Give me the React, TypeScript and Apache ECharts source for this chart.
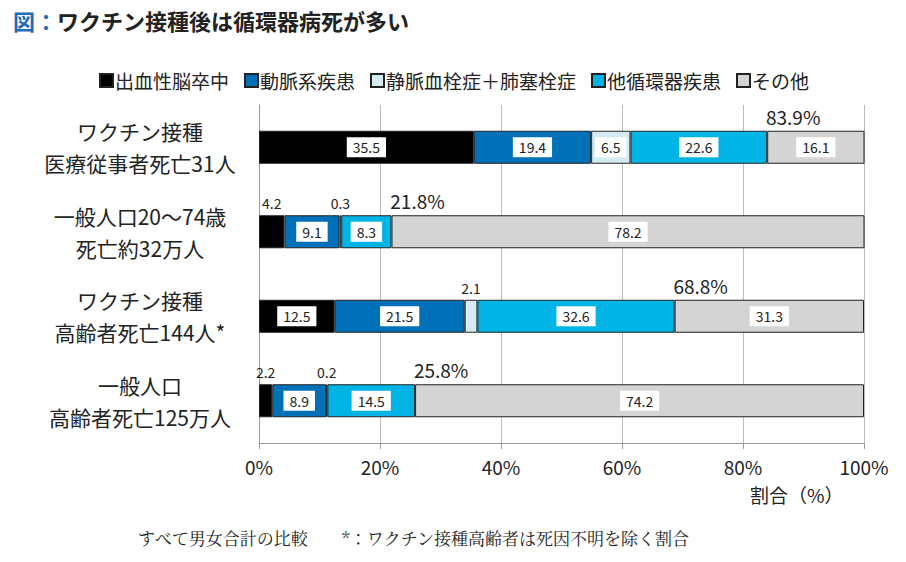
import { useEffect, useRef } from 'react'
import * as echarts from 'echarts'

const categories = ['ワクチン接種\n医療従事者死亡31人', '一般人口20～74歳\n死亡約32万人', 'ワクチン接種\n高齢者死亡144人*', '一般人口\n高齢者死亡125万人']
const seriesNames = ['出血性脳卒中', '動脈系疾患', '静脈血栓症＋肺塞栓症', '他循環器疾患', 'その他']
const colors = ['#000000', '#0070b8', '#d5ebf3', '#00b5e6', '#d4d4d4']
const hemorrhagic = [35.5, 4.2, 12.5, 2.2]
const arterial = [19.4, 9.1, 21.5, 8.9]
const venous = [6.5, 0.3, 2.1, 0.2]
const otherCirc = [22.6, 8.3, 32.6, 14.5]
const others = [16.1, 78.2, 31.3, 74.2]
const totals = ['83.9%', '21.8%', '68.8%', '25.8%']
const xTicks = ['0%', '20%', '40%', '60%', '80%', '100%']

const FONT = '"Noto Sans CJK JP", "Noto Sans", sans-serif'

export default function App() {
  const ref = useRef<HTMLDivElement>(null)

  useEffect(() => {
    document.body.style.margin = '0'
    if (!ref.current) return
    const chart = echarts.init(ref.current, undefined, { renderer: 'svg' })
    const values = [hemorrhagic, arterial, venous, otherCirc, others]
    // 5 未満の値はバーの上に枠なしで表示
    const mk = (v: number) =>
      v < 5
        ? { value: v, label: { position: 'top', backgroundColor: 'transparent', padding: 0, distance: 5 } }
        : { value: v }
    const bars: any[] = values.map((arr, i) => ({
      name: seriesNames[i],
      type: 'bar',
      stack: 'a',
      barWidth: 33,
      itemStyle: { color: colors[i], borderColor: '#222', borderWidth: 1 },
      label: {
        show: true,
        position: 'inside',
        color: '#222',
        fontSize: 14,
        fontFamily: FONT,
        backgroundColor: '#fff',
        padding: [3, 6],
        formatter: (p: any) => p.value.toFixed(1),
      },
      data: arr.map(mk),
    }))
    // 合計ラベル用の幅ゼロの系列
    bars.splice(4, 0, {
      name: 'total',
      type: 'bar',
      stack: 'a',
      barWidth: 33,
      itemStyle: { color: 'transparent' },
      label: {
        show: true,
        position: 'top',
        offset: [26, 0],
        distance: 5,
        fontSize: 19,
        color: '#222',
        fontFamily: FONT,
        formatter: (p: any) => totals[p.dataIndex],
      },
      data: [0, 0, 0, 0],
    })
    chart.setOption({
      animation: false,
      textStyle: { fontFamily: FONT },
      title: {
        text: '{b|図：}{t|ワクチン接種後は循環器病死が多い}',
        left: 8,
        top: 4,
        textStyle: {
          rich: {
            b: { color: '#1f6db5', fontSize: 22, fontWeight: 'bold', fontFamily: FONT },
            t: { color: '#222', fontSize: 22, fontWeight: 'bold', fontFamily: FONT },
          },
        },
      },
      legend: {
        data: seriesNames.map((n) => ({ name: n, icon: 'rect' })),
        top: 66,
        left: 94,
        itemWidth: 13,
        itemHeight: 13,
        itemGap: 15,
        textStyle: { fontSize: 19, color: '#222', padding: [0, 0, 0, -3] },
      },
      grid: { left: 259, right: 42, top: 105, bottom: 119 },
      xAxis: {
        type: 'value',
        min: 0,
        max: 100,
        interval: 20,
        axisLine: { show: true, lineStyle: { color: '#999' } },
        axisTick: { show: true, length: 6, lineStyle: { color: '#999' } },
        splitLine: { lineStyle: { color: '#bdbdbd' } },
        axisLabel: {
          fontSize: 19,
          color: '#222',
          margin: 14,
          formatter: (v: number) => xTicks[v / 20],
        },
      },
      yAxis: {
        type: 'category',
        inverse: true,
        data: categories,
        axisLine: { lineStyle: { color: '#999' } },
        axisTick: { length: 7, lineStyle: { color: '#999' } },
        axisLabel: { fontSize: 21, color: '#222', align: 'center', margin: 119, lineHeight: 32 },
      },
      graphic: [
        { type: 'text', left: 750, top: 485, style: { text: '割合（%）', fill: '#222', font: `19px ${FONT}` } },
        {
          type: 'text',
          left: 138,
          top: 529,
          style: {
            text: 'すべて男女合計の比較　　*：ワクチン接種高齢者は死因不明を除く割合',
            fill: '#222',
            font: '17px "Noto Serif CJK JP", "Noto Sans CJK JP", serif',
          },
        },
      ],
      series: bars,
    })
    return () => chart.dispose()
  }, [])

  return <div ref={ref} style={{ width: 906, height: 562 }} />
}
